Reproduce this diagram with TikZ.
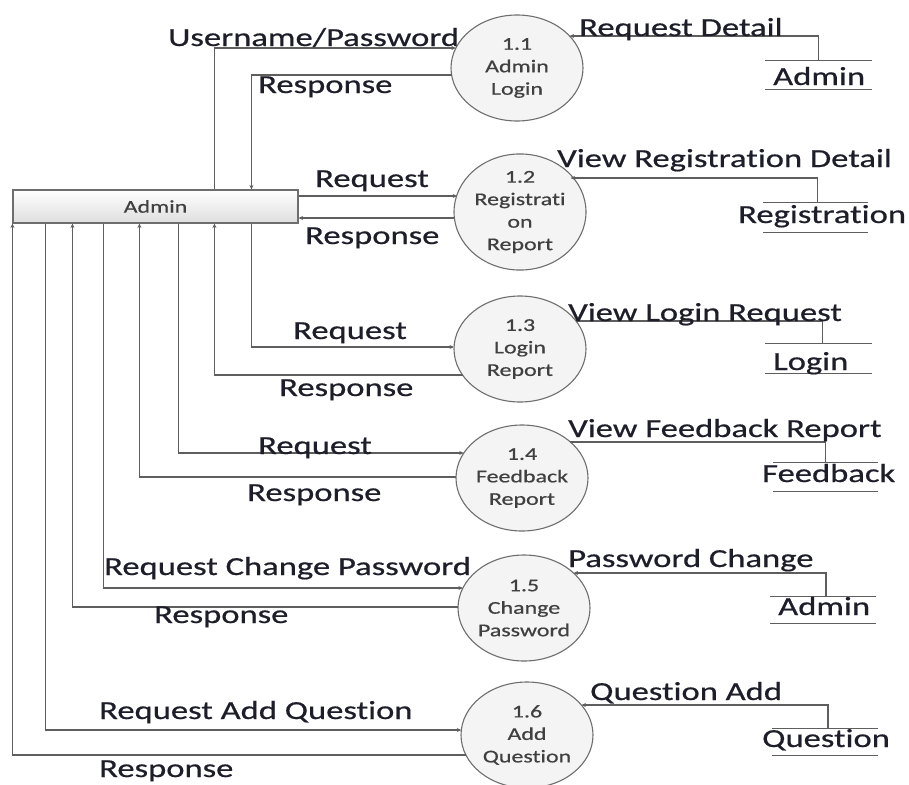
\documentclass[tikz,border=0pt]{standalone}
\usepackage{fontspec}
\setmainfont{Carlito}[FakeStretch=1.33,FakeBold=0.6,Ligatures=NoCommon]
\usetikzlibrary{shapes.geometric,arrows.meta,calc}
\newcommand\labfont{\fontsize{26}{30}\selectfont}
\newcommand\circfont{\fontsize{18}{22.5}\selectfont}
\definecolor{linec}{HTML}{5E5E5E}
\definecolor{circline}{HTML}{6E6E6E}
\definecolor{circfill}{HTML}{F4F4F4}
\definecolor{labc}{HTML}{1E1E2A}
\definecolor{circtext}{HTML}{404040}
\tikzset{
  flow/.style={draw=linec, line width=1.2pt},
  arr/.style={flow, -{Stealth[length=4.5pt,width=4pt]}},
  proc/.style={ellipse, draw=circline, line width=1.1pt, fill=circfill,
    minimum width=132pt, minimum height=106pt, inner sep=0pt,
    align=center, font=\circfont, text=circtext},
  entity/.style={draw=circline, line width=1.1pt, top color=white, bottom color=black!13,
    minimum width=285pt, minimum height=33pt, inner sep=0pt, font=\circfont, text=black!75},
  store/.style={minimum height=28pt, inner sep=0pt},
  storeline/.style={draw=linec, line width=1.2pt},
  lab/.style={font=\labfont, text=labc, anchor=base west, inner sep=0pt}
}
\begin{document}
\begin{tikzpicture}[x=1pt,y=-1pt]
\useasboundingbox (0,0) rectangle (909,784);

% external entity
\node[entity] (admin) at (155.5,206.5) {Admin};

% processes
\node[proc] (c11) at (517,68)  {1.1\\Admin\\Login};
\node[proc] (c12) at (520,212) {1.2\\Registrati\\on\\Report};
\node[proc] (c13) at (520,349) {1.3\\Login\\Report};
\node[proc] (c14) at (522,478) {1.4\\Feedback\\Report};
\node[proc] (c15) at (524,608) {1.5\\Change\\Password};
\node[proc] (c16) at (527,735) {1.6\\Add\\Question};

% data stores
\node[store, minimum width=107pt] (s1) at (818.5,75) {};
\node[store, minimum width=105pt, minimum height=29pt] (s2) at (815.5,217.5) {};
\node[store, minimum width=107pt, minimum height=29pt] (s3) at (818.5,358.5) {};
\node[store, minimum width=105pt] (s4) at (825.5,477) {};
\node[store, minimum width=106pt, minimum height=26pt] (s5) at (823,610) {};
\node[store, minimum width=106pt, minimum height=26pt] (s6) at (825,742) {};
\foreach \s in {s1,s2,s3,s4,s5,s6}
  \draw[storeline] (\s.north west) -- (\s.north east) (\s.south west) -- (\s.south east);

\node[lab] (s1t) at (773,85)  {Admin};
\node[lab] (s2t) at (738,223) {Registration};
\node[lab] (s3t) at (773,370) {Login};
\node[lab] (s4t) at (762,482) {Feedback};
\node[lab] (s5t) at (778,615) {Admin};
\node[lab] (s6t) at (762,747) {Question};

% 1.1
\draw[arr] ([xshift=202pt]admin.north west) |- ($(c11.center)+(-61.1,-20)$);
\draw[arr] ($(c11.center)+(-65.4,7)$) -| ([xshift=239pt]admin.north west);
% 1.2
\draw[arr] ([yshift=10.5pt]admin.east) -- ($(c12.center)+(-62.9,-16)$);
\draw[arr] ($(c12.center)+(-65.6,6)$) -- ([yshift=-11.5pt]admin.east);
% 1.3
\draw[arr] ([xshift=239pt]admin.south west) |- ($(c13.center)+(-66,-2)$);
\draw[arr] ($(c13.center)+(-57.5,26)$) -| ([xshift=202pt]admin.south west);
% 1.4
\draw[arr] ([xshift=166pt]admin.south west) |- ($(c14.center)+(-58.2,-25)$);
\draw[arr] ($(c14.center)+(-66,-1)$) -| ([xshift=127pt]admin.south west);
% 1.5
\draw[arr] ([xshift=91pt]admin.south west) |- ($(c15.center)+(-61.1,-20)$);
\draw[arr] ($(c15.center)+(-66,-1)$) -| ([xshift=60pt]admin.south west);
% 1.6
\draw[arr] ([xshift=33pt]admin.south west) |- ($(c16.center)+(-65.7,-5)$);
\draw[arr] ($(c16.center)+(-61.1,20)$) -| (admin.south west);

% store flows
\draw[arr] (s1.north) |- ($(c11.center)+(52.6,-32)$);
\draw[arr] ([xshift=2pt]s2.north) |- ($(c12.center)+(50.6,-34)$);
\draw[flow] ([xshift=4pt]s3.north) |- ($(c13.center)+(56,-28)$);
\draw[flow] (s4.north) |- ($(c14.center)+(48.4,-36)$);
\draw[arr] ([xshift=3pt]s5.north) |- ($(c15.center)+(49.6,-35)$);
\draw[arr] ([xshift=3pt]s6.north) |- ($(c16.center)+(54.4,-30)$);

% flow labels
\node[lab] (l1) at (168,46)  {Username/Password};
\node[lab] (l2) at (258,93)  {Response};
\node[lab] (l3) at (315,187) {Request};
\node[lab] (l4) at (305,244) {Response};
\node[lab] (l5) at (293,339) {Request};
\node[lab] (l6) at (279,396) {Response};
\node[lab] (l7) at (258,454) {Request};
\node[lab] (l8) at (247,501) {Response};
\node[lab] (l9) at (104,575) {Request Change Password};
\node[lab] (l10) at (154,623) {Response};
\node[lab] (l11) at (99,719) {Request Add Question};
\node[lab] (l12) at (99,777) {Response};
\node[lab] (r1) at (579,36)  {Request Detail};
\node[lab] (r2) at (557,167) {View Registration Detail};
\node[lab] (r3) at (568,321) {View Login Request};
\node[lab] (r4) at (568,437) {View Feedback Report};
\node[lab] (r5) at (568,567) {Password Change};
\node[lab] (r6) at (590,700) {Question Add};
\end{tikzpicture}
\end{document}
